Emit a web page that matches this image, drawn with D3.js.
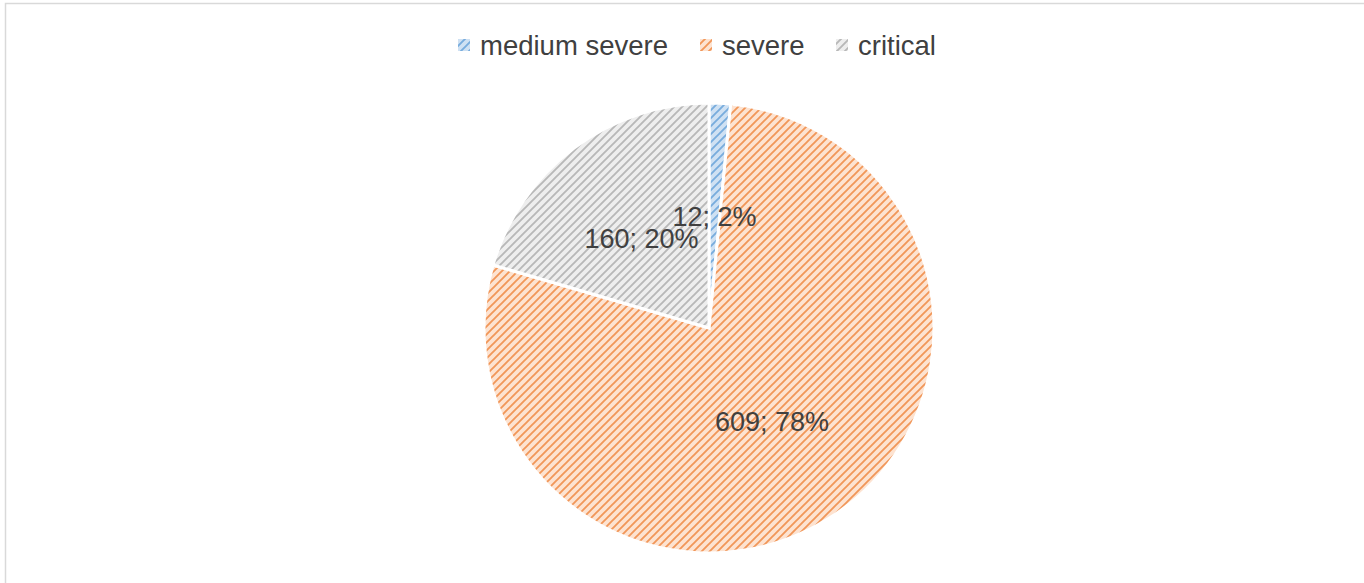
<!DOCTYPE html>
<html>
<head>
<meta charset="utf-8">
<script src="https://cdn.jsdelivr.net/npm/d3@7/dist/d3.min.js"></script>
<style>
  html, body { margin: 0; padding: 0; background: #fff; }
  svg { display: block; }
  text { font-family: "Liberation Sans", Arial, sans-serif; fill: #404040; }
</style>
</head>
<body>
<svg id="chart" width="1364" height="583"></svg>
<script>
// Severity categories and their counts
const categories = ["medium severe", "severe", "critical"];
const counts = [12, 609, 160];
const baseColors = ["#5b9bd5", "#ed7d31", "#a5a5a5"];
const tintColors = ["#cfe1f3", "#fde3d1", "#eeeeee"];

const W = 1364, H = 583;
const svg = d3.select("#chart");

// Chart-area frame
svg.append("rect")
  .attr("x", 5.5).attr("y", 3.5)
  .attr("width", W).attr("height", H)
  .attr("fill", "#fff")
  .attr("stroke", "#d9d9d9").attr("stroke-width", 1.5);

// Wide upward-diagonal hatch fills
const defs = svg.append("defs");
categories.forEach((c, i) => {
  const p = defs.append("pattern")
    .attr("id", "hatch" + i)
    .attr("patternUnits", "userSpaceOnUse")
    .attr("width", 8).attr("height", 8);
  p.append("rect").attr("width", 8).attr("height", 8).attr("fill", tintColors[i]);
  p.append("path")
    .attr("d", "M-2,2 L2,-2 M0,8 L8,0 M6,10 L10,6")
    .attr("stroke", baseColors[i])
    .attr("stroke-width", 1.9)
    .attr("stroke-opacity", 0.75);
});

// Pie
const cx = 709, cy = 328, R = 225;
const total = d3.sum(counts);
const pie = d3.pie().sort(null).value(d => d)(counts);
const arc = d3.arc().innerRadius(0).outerRadius(R);
const labelArc = d3.arc().innerRadius(R * 0.5).outerRadius(R * 0.5);

const g = svg.append("g").attr("transform", `translate(${cx},${cy})`);
g.selectAll("path.slice")
  .data(pie)
  .join("path")
  .attr("class", "slice")
  .attr("d", arc)
  .attr("fill", (d, i) => `url(#hatch${i})`)
  .attr("stroke", "#fff")
  .attr("stroke-width", 3)
  .attr("stroke-linejoin", "miter");

g.selectAll("text.lbl")
  .data(pie)
  .join("text")
  .attr("class", "lbl")
  .attr("transform", d => {
    const [x, y] = labelArc.centroid(d);
    return `translate(${x},${y})`;
  })
  .attr("text-anchor", "middle")
  .attr("dy", "0.38em")
  .style("font-size", "27px")
  .text(d => `${d.data}; ${Math.round(d.data / total * 100)}%`);

// Legend
const legendX = [458, 700, 836];
const leg = svg.append("g");
categories.forEach((c, i) => {
  leg.append("rect")
    .attr("x", legendX[i]).attr("y", 39)
    .attr("width", 12).attr("height", 12)
    .attr("fill", `url(#hatch${i})`);
  leg.append("text")
    .attr("x", legendX[i] + 22).attr("y", 45)
    .attr("dy", "0.36em")
    .style("font-size", "27.5px")
    .text(c);
});
</script>
</body>
</html>
